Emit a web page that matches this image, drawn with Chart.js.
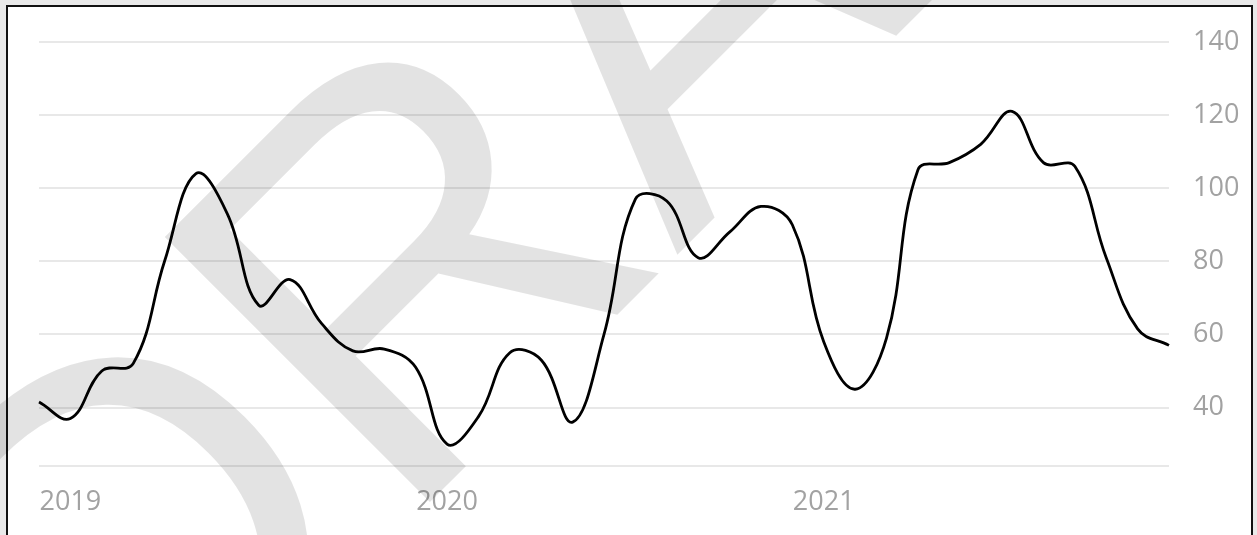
<!DOCTYPE html>
<html>
<head>
<meta charset="utf-8">
<script src="https://cdn.jsdelivr.net/npm/chart.js@4.4.1/dist/chart.umd.min.js"></script>
<style>
  html, body { margin: 0; padding: 0; background: #e9e9e9; overflow: hidden; }
  #frame {
    position: absolute; left: 6px; top: 5px; width: 1247px; height: 560px;
    background: #fff; border: 2px solid #111; box-sizing: border-box;
  }
  #wrap { position: absolute; left: 0; top: 0; width: 1257px; height: 535px; }
</style>
</head>
<body>
<div id="frame"></div>
<div id="wrap"><canvas id="chart" width="1257" height="535"></canvas></div>
<script>
// Monthly readings, Dec 2018 – Dec 2021
const months = [
  '2018-12',
  '2019-01','2019-02','2019-03','2019-04','2019-05','2019-06',
  '2019-07','2019-08','2019-09','2019-10','2019-11','2019-12',
  '2020-01','2020-02','2020-03','2020-04','2020-05','2020-06',
  '2020-07','2020-08','2020-09','2020-10','2020-11','2020-12',
  '2021-01','2021-02','2021-03','2021-04','2021-05','2021-06',
  '2021-07','2021-08','2021-09','2021-10','2021-11','2021-12'
];
const values = [
  41.5,
  37, 50, 52, 80, 104, 93,
  68, 75, 63, 55.5, 56, 51,
  30, 37.5, 55, 53, 36, 60,
  97, 96.5, 81, 88, 95, 90,
  58, 45, 59, 105, 107, 112,
  121, 107, 106, 81, 61.5, 57
];
const yearTicks = ['2019', '2020', '2021'];
const valueTicks = [40, 60, 80, 100, 120, 140];

const labelFont = { family: "'Open Sans', sans-serif", size: 27 };
const labelColor = '#a2a2a2';

// Large translucent "DRAFT" stamp running diagonally up across the plot
const draftStamp = {
  id: 'draftStamp',
  afterDraw(chart) {
    const ctx = chart.ctx;
    ctx.save();
    ctx.translate(120, 812);
    ctx.rotate(-Math.PI / 4);
    ctx.font = "545px 'Liberation Sans', Arial, sans-serif";
    ctx.fillStyle = 'rgba(0,0,0,0.11)';
    ctx.textBaseline = 'alphabetic';
    ctx.textAlign = 'left';
    ctx.fillText('DRAFT', 0, 0);
    ctx.restore();
  }
};

new Chart(document.getElementById('chart'), {
  type: 'line',
  data: {
    labels: months,
    datasets: [{
      data: values,
      borderColor: '#000',
      borderWidth: 2.8,
      tension: 0.4,
      pointRadius: 0,
      fill: false
    }]
  },
  options: {
    responsive: false,
    animation: false,
    layout: { padding: { left: 39, top: 42, right: 0, bottom: 0 } },
    plugins: { legend: { display: false }, tooltip: { enabled: false } },
    scales: {
      x: {
        grid: { display: false, drawTicks: false },
        border: { display: false },
        ticks: {
          autoSkip: false,
          maxRotation: 0,
          padding: 20,
          color: labelColor,
          font: labelFont,
          callback(v, i) {
            const [y, m] = months[i].split('-');
            return m === '01' && yearTicks.includes(y) ? y : '';
          }
        },
        afterFit(scale) { scale.height = 69; }
      },
      y: {
        position: 'right',
        min: 24,
        max: 140,
        grid: { color: '#e8e8e8', lineWidth: 2, drawTicks: false },
        border: { display: false },
        ticks: {
          stepSize: 20,
          padding: 24,
          color: labelColor,
          font: labelFont,
          callback: v => valueTicks.includes(v) ? String(v) : ''
        },
        afterFit(scale) { scale.width = 88; }
      }
    }
  },
  plugins: [draftStamp]
});
</script>
</body>
</html>
